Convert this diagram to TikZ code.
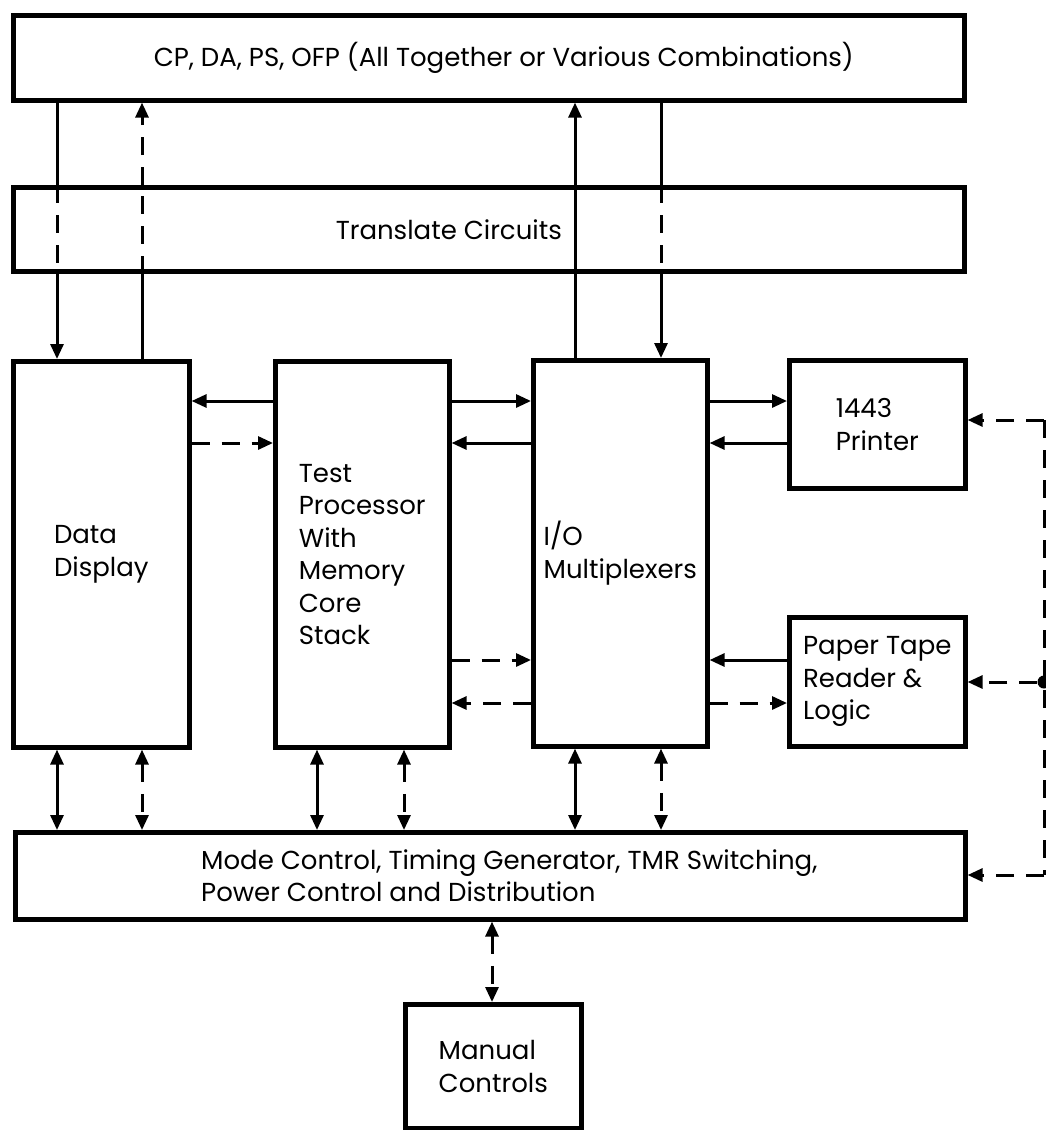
\documentclass[tikz,border=0pt]{standalone}
\usepackage{fontspec}
\setmainfont{Poppins}
\usetikzlibrary{arrows.meta}
\begin{document}
\begin{tikzpicture}[x=1pt,y=-1pt,
  box/.style={draw, line width=4.6pt, inner sep=0pt, anchor=north west,
    align=left, font=\fontsize{26}{32.5}\selectfont},
  link/.style={line width=3pt},
  dsh/.style={link, dash pattern=on 18pt off 12pt},
  >={Triangle[length=15pt,width=13pt]},
  junction/.style={circle, fill, inner sep=0pt, minimum size=13pt}]
\useasboundingbox (0,0) rectangle (1046,1130);

% blocks
\node[box, minimum width=951pt, minimum height=85pt] (top) at (11,13)
  {\hspace*{30pt}CP, DA, PS, OFP (All Together or Various Combinations)};
\node[box, minimum width=951pt, minimum height=84pt] (tr) at (11,185)
  {Translate Circuits\hspace*{80pt}};
\node[box, minimum width=176pt, minimum height=386pt] (dd) at (11,359)
  {Data\\Display};
\node[box, minimum width=174pt, minimum height=386pt] (tp) at (273,359)
  {Test\\Processor\\With\\Memory\\Core\\Stack};
\node[box, minimum width=174pt, minimum height=386pt] (io) at (531,358)
  {I/O\\Multiplexers};
\node[box, minimum width=176pt, minimum height=128pt] (pr) at (787,358)
  {1443\\Printer};
\node[box, minimum width=176pt, minimum height=129pt] (pt) at (787,615)
  {Paper Tape\\Reader \&\\Logic};
\node[box, minimum width=950pt, minimum height=87pt] (mode) at (13,830)
  {\hspace*{38pt}Mode Control, Timing Generator, TMR Switching,\\
   \hspace*{38pt}Power Control and Distribution};
\node[box, minimum width=176pt, minimum height=124pt] (man) at (403,1002)
  {Manual\\Controls};

% connector columns and rows
\coordinate (cA) at (57,0);
\coordinate (cB) at (142,0);
\coordinate (cC) at (575,0);
\coordinate (cD) at (661,0);
\coordinate (cE) at (317,0);
\coordinate (cF) at (404,0);
\coordinate (cG) at (492,0);
\coordinate (r1) at (0,401);
\coordinate (r2) at (0,443);
\coordinate (r3) at (0,660);
\coordinate (r4) at (0,703);
\coordinate (busT) at (1044,420);
\coordinate (busB) at (1044,875);
\node[junction] (jn) at (1044,682) {};

% through the translate circuits
\draw[link] (top.south -| cA) -- (tr.north -| cA);
\draw[dsh] (tr.north -| cA) -- (tr.south -| cA);
\draw[link,->] (tr.south -| cA) -- (dd.north -| cA);

\draw[link] (dd.north -| cB) -- (tr.south -| cB);
\draw[dsh] (tr.south -| cB) -- (tr.north -| cB);
\draw[dsh,->] (tr.north -| cB) -- (top.south -| cB);

\draw[link,->] (io.north -| cC) -- (top.south -| cC);

\draw[link] (top.south -| cD) -- (tr.north -| cD);
\draw[dsh] (tr.north -| cD) -- (tr.south -| cD);
\draw[link,->] (tr.south -| cD) -- (io.north -| cD);

% horizontal links
\draw[link,->] (tp.west |- r1) -- (dd.east |- r1);
\draw[dsh,->] (dd.east |- r2) -- (tp.west |- r2);
\draw[link,->] (tp.east |- r1) -- (io.west |- r1);
\draw[link,->] (io.west |- r2) -- (tp.east |- r2);
\draw[dsh,->] (tp.east |- r3) -- (io.west |- r3);
\draw[dsh,->] (io.west |- r4) -- (tp.east |- r4);
\draw[link,->] (io.east |- r1) -- (pr.west |- r1);
\draw[link,->] (pr.west |- r2) -- (io.east |- r2);
\draw[link,->] (pt.west |- r3) -- (io.east |- r3);
\draw[dsh,->] (io.east |- r4) -- (pt.west |- r4);

% right-hand dashed bus
\draw[dsh,->] (busT) -- (pr.east |- busT);
\draw[dsh] (busT) -- (busB);
\draw[dsh,->] (jn) -- (pt.east |- jn);
\draw[dsh,->] (busB) -- (mode.east |- busB);

% links to mode control
\draw[link,<->] (dd.south -| cA) -- (mode.north -| cA);
\draw[dsh,<->] (dd.south -| cB) -- (mode.north -| cB);
\draw[link,<->] (tp.south -| cE) -- (mode.north -| cE);
\draw[dsh,<->] (tp.south -| cF) -- (mode.north -| cF);
\draw[link,<->] (io.south -| cC) -- (mode.north -| cC);
\draw[dsh,<->] (io.south -| cD) -- (mode.north -| cD);
\draw[dsh,<->] (mode.south -| cG) -- (man.north -| cG);
\end{tikzpicture}
\end{document}
